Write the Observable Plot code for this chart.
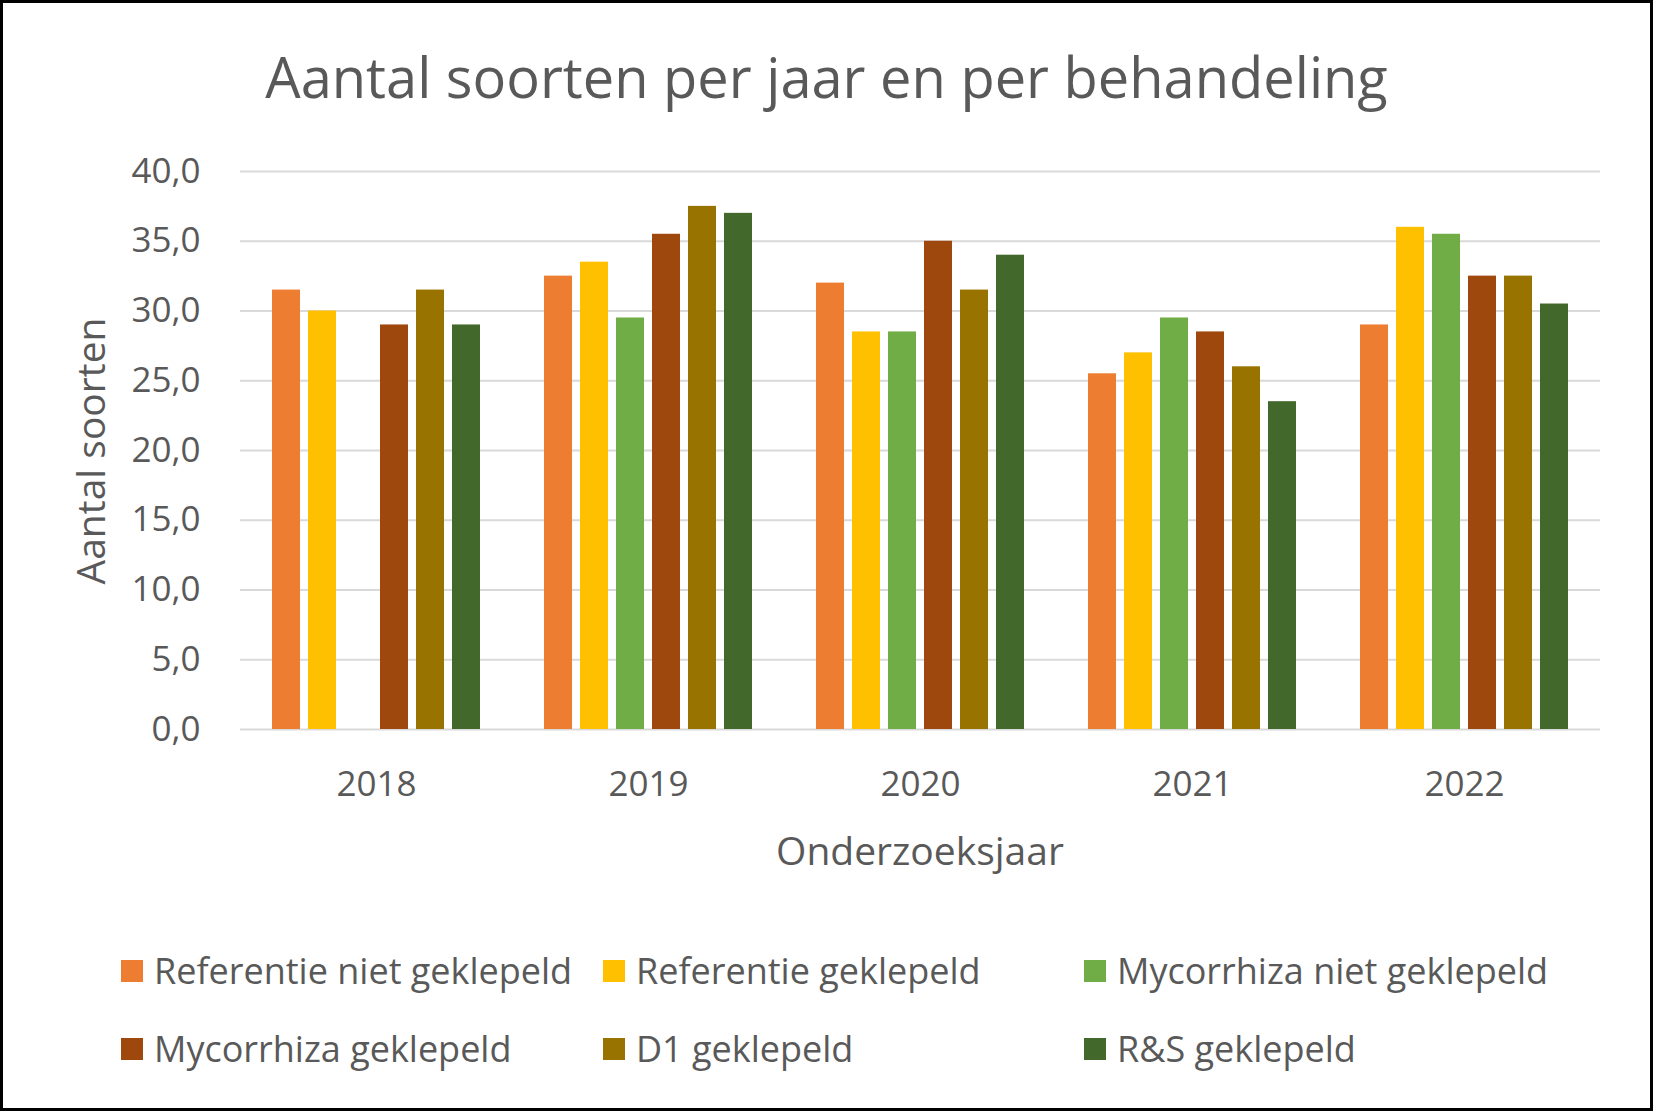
<!DOCTYPE html>
<html>
<head>
<meta charset="utf-8">
<script src="https://cdn.jsdelivr.net/npm/d3@7"></script>
<script src="https://cdn.jsdelivr.net/npm/@observablehq/plot@0.6"></script>
<style>
  html, body { margin: 0; padding: 0; background: #fff; }
  #wrap { position: relative; width: 1653px; height: 1111px; background: #fff; overflow: hidden;
          font-family: "Open Sans", "Noto Sans", sans-serif; color: #595959; }
  #frame { position: absolute; left: 0; top: 0; width: 1653px; height: 1111px; box-sizing: border-box;
           border: 3px solid #000; pointer-events: none; }
  #chart { position: absolute; left: 0; top: 0; }
  .abs { position: absolute; white-space: nowrap; }
  #title { left: 0; width: 1653px; text-align: center; top: 36px; font-size: 56px; line-height: 80px; }
  #ylab { left: 90px; top: 451px; font-size: 39px; line-height: 50px; transform: translate(-50%, -50%) rotate(-90deg); }
  #xlab { left: 920px; top: 850px; font-size: 39px; line-height: 50px; transform: translate(-50%, -50%); }
  .lg { position: absolute; font-size: 36px; line-height: 40px; white-space: nowrap; }
  .lg .sw { position: absolute; left: 0; top: 9px; width: 22px; height: 22px; }
  .lg .tx { position: absolute; left: 33px; top: 0; }
</style>
</head>
<body>
<div id="wrap">
  <div id="chart"></div>
  <div id="title" class="abs">Aantal soorten per jaar en per behandeling</div>
  <div id="ylab" class="abs">Aantal soorten</div>
  <div id="xlab" class="abs">Onderzoeksjaar</div>
  <div id="legend"></div>
  <div id="frame"></div>
</div>
<script>
const years = ["2018", "2019", "2020", "2021", "2022"];
const series = [
  "Referentie niet geklepeld",
  "Referentie geklepeld",
  "Mycorrhiza niet geklepeld",
  "Mycorrhiza geklepeld",
  "D1 geklepeld",
  "R&S geklepeld"
];
const colors = ["#ED7D31", "#FFC000", "#70AD47", "#9E480E", "#997300", "#43682B"];

const referentieNiet = [31.5, 32.5, 32.0, 25.5, 29.0];
const referentieGekl = [30.0, 33.5, 28.5, 27.0, 36.0];
const mycorrhizaNiet = [null, 29.5, 28.5, 29.5, 35.5];
const mycorrhizaGekl = [29.0, 35.5, 35.0, 28.5, 32.5];
const d1Gekl = [31.5, 37.5, 31.5, 26.0, 32.5];
const rsGekl = [29.0, 37.0, 34.0, 23.5, 30.5];

const yTicks = [0, 5, 10, 15, 20, 25, 30, 35, 40];

const allSeries = [referentieNiet, referentieGekl, mycorrhizaNiet, mycorrhizaGekl, d1Gekl, rsGekl];
const data = [];
years.forEach((yr, i) => {
  allSeries.forEach((vals, s) => {
    if (vals[i] != null) data.push({year: yr, series: series[s], value: vals[i]});
  });
});

const chart = Plot.plot({
  width: 1653,
  height: 830,
  marginTop: 171,
  marginBottom: 101,
  marginLeft: 240,
  marginRight: 53,
  style: {fontFamily: "'Open Sans', 'Noto Sans', sans-serif", color: "#595959", background: "transparent", overflow: "visible"},
  fx: {domain: years, padding: 0, label: null},
  x: {domain: series, paddingInner: 0.215, paddingOuter: 0.85, axis: null},
  y: {domain: [0, 40], axis: null},
  color: {domain: series, range: colors},
  marks: [
    Plot.gridY(yTicks, {stroke: "#D9D9D9", strokeOpacity: 1, strokeWidth: 2}),
    Plot.axisY(yTicks, {tickSize: 0, tickPadding: 40, fontSize: 35, label: null,
      tickFormat: d => d.toFixed(1).replace(".", ",")}),
    Plot.axisFx({anchor: "bottom", tickSize: 0, tickPadding: 42, fontSize: 35, label: null}),
    Plot.barY(data, {fx: "year", x: "series", y: "value", fill: "series"})
  ]
});
document.getElementById("chart").appendChild(chart);

// legend
const legend = document.getElementById("legend");
const colX = [121, 603, 1084];
const rowY = [951, 1029];
series.forEach((name, i) => {
  const item = document.createElement("div");
  item.className = "lg";
  item.style.left = colX[i % 3] + "px";
  item.style.top = rowY[Math.floor(i / 3)] + "px";
  const sw = document.createElement("div");
  sw.className = "sw";
  sw.style.background = colors[i];
  const tx = document.createElement("div");
  tx.className = "tx";
  tx.textContent = name;
  item.appendChild(sw);
  item.appendChild(tx);
  legend.appendChild(item);
});
</script>
</body>
</html>
